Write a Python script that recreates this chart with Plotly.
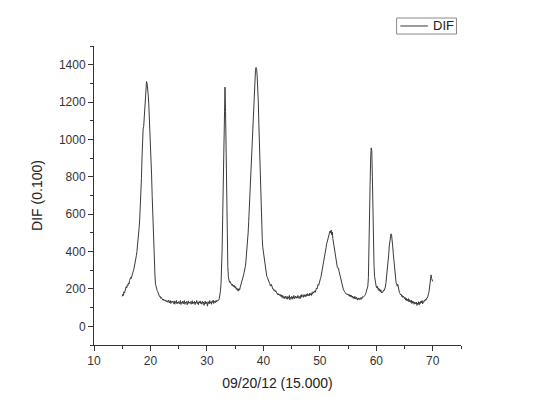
import plotly.graph_objects as go

# Intensity, 2-theta from 15.0 to 70.0 in 0.1 steps (one row per degree)
intensity = [
    160,172,165,185,178,198,192,212,205,222,   # 15
    218,232,226,245,250,262,256,272,282,295,   # 16
    300,312,325,340,358,378,400,425,455,490,   # 17
    530,575,630,700,790,900,1010,1055,1070,1120,  # 18
    1180,1240,1290,1310,1300,1280,1240,1190,1130,1070,  # 19
    1000,910,810,700,590,480,400,330,270,225,  # 20
    205,195,190,185,172,168,160,162,150,155,   # 21
    148,150,140,145,138,142,135,140,132,138,   # 22
    135,128,140,130,125,138,122,133,128,135,   # 23
    130,122,136,118,132,127,138,120,130,125,   # 24
    132,120,128,138,117,130,125,135,120,128,   # 25
    138,118,130,125,133,115,128,136,122,130,   # 26
    125,132,118,128,137,120,130,124,134,116,   # 27
    130,126,138,120,128,115,132,125,136,122,   # 28
    128,118,134,124,130,112,127,135,120,130,   # 29
    125,108,132,128,120,138,124,130,118,135,   # 30
    128,140,122,135,130,126,138,132,140,135,   # 31
    138,140,150,165,190,230,300,420,600,850,   # 32
    1080,1230,1280,1150,900,620,420,320,265,245,  # 33
    235,240,228,232,220,226,215,220,210,218,   # 34
    205,212,198,205,192,200,188,202,195,210,   # 35
    220,228,235,250,265,275,290,300,320,345,   # 36
    375,410,450,500,560,630,700,780,860,940,   # 37
    1010,1080,1160,1240,1310,1350,1370,1385,1375,1340,  # 38
    1280,1200,1080,960,840,720,620,540,470,420,  # 39
    395,370,345,320,300,285,268,262,250,245,   # 40
    238,230,220,215,225,210,205,198,200,190,   # 41
    195,185,190,178,182,170,176,168,172,165,   # 42
    170,160,168,155,165,150,160,158,148,162,   # 43
    155,148,160,145,158,150,165,142,155,150,   # 44
    160,145,158,150,165,148,155,162,150,158,   # 45
    152,165,150,160,158,148,165,155,170,160,   # 46
    165,155,170,160,168,158,172,162,175,165,   # 47
    170,162,178,168,175,165,180,172,185,178,   # 48
    185,190,182,198,205,200,215,225,220,238,   # 49
    245,255,265,280,300,315,330,350,370,390,   # 50
    400,420,440,455,470,485,495,505,510,500,   # 51
    515,490,505,470,450,430,400,380,370,350,   # 52
    330,315,310,312,295,280,262,245,230,220,   # 53
    210,205,195,192,185,180,178,172,175,168,   # 54
    172,165,170,160,168,158,165,155,162,150,   # 55
    158,148,160,152,145,155,148,140,152,145,   # 56
    150,142,148,155,145,152,160,158,160,162,   # 57
    165,172,180,190,200,215,260,380,560,760,   # 58
    900,955,940,800,580,420,320,265,235,220,   # 59
    210,205,215,198,205,190,200,185,195,180,   # 60
    185,180,190,195,192,200,210,230,255,285,   # 61
    310,345,385,430,465,485,495,490,470,430,   # 62
    390,350,315,285,255,235,225,215,225,205,   # 63
    190,180,175,168,172,160,165,155,162,150,   # 64
    148,155,140,150,138,145,135,148,130,142,   # 65
    135,128,140,122,135,125,132,118,130,125,   # 66
    120,130,112,125,118,132,115,128,122,135,   # 67
    125,138,120,132,128,140,135,145,140,150,   # 68
    150,158,165,180,200,225,265,275,255,250,   # 69
    240,                                       # 70
]
two_theta = [round(15 + 0.1 * i, 1) for i in range(len(intensity))]

series_name = "DIF"
x_title = "09/20/12 (15.000)"
y_title = "DIF (0.100)"

FONT = "Arial, 'Liberation Sans', sans-serif"
AX = "#333333"
LINE = "#3a3a3a"

fig = go.Figure()
fig.add_trace(go.Scatter(
    x=two_theta, y=intensity, mode="lines", name=series_name,
    line=dict(color=LINE, width=1), showlegend=False,
))

axis_common = dict(
    showline=True, linecolor=AX, linewidth=1, mirror=False,
    ticks="outside", ticklen=5, tickcolor=AX, tickwidth=1,
    showgrid=False, zeroline=False, automargin=False,
    tickfont=dict(family=FONT, size=12, color=AX),
)

# Compact Origin-style legend box (paper coordinates)
fig.add_shape(type="rect", xref="paper", yref="paper",
              x0=0.8245, x1=0.9878, y0=1.040, y1=1.0936,
              line=dict(color="#8a8a8a", width=1), fillcolor="white", layer="above")
fig.add_shape(type="line", xref="paper", yref="paper",
              x0=0.8346, x1=0.9097, y0=1.0669, y1=1.0669,
              line=dict(color=LINE, width=1), layer="above")
fig.add_annotation(xref="paper", yref="paper", x=0.9170, y=1.0669,
                   xanchor="left", yanchor="middle", showarrow=False,
                   text=series_name, font=dict(family=FONT, size=13, color="#222"))

# page body keeps its default 8px margin, so the figure is 8px smaller
fig.update_layout(
    width=528, height=406,
    margin=dict(l=86, r=74.5, t=38, b=69),
    paper_bgcolor="white", plot_bgcolor="white",
    showlegend=False,
    xaxis=dict(
        range=[10, 75], tick0=10, dtick=10,
        minor=dict(ticks="outside", ticklen=3, tick0=10, dtick=5, tickcolor=AX),
        title=dict(text=x_title, font=dict(family=FONT, size=14, color="#222"), standoff=10),
        **axis_common,
    ),
    yaxis=dict(
        range=[-100, 1500], tick0=0, dtick=200,
        minor=dict(ticks="outside", ticklen=3, tick0=0, dtick=100, tickcolor=AX),
        title=dict(text=y_title, font=dict(family=FONT, size=14, color="#222"), standoff=12),
        **axis_common,
    ),
)

fig.write_html("out.html")
